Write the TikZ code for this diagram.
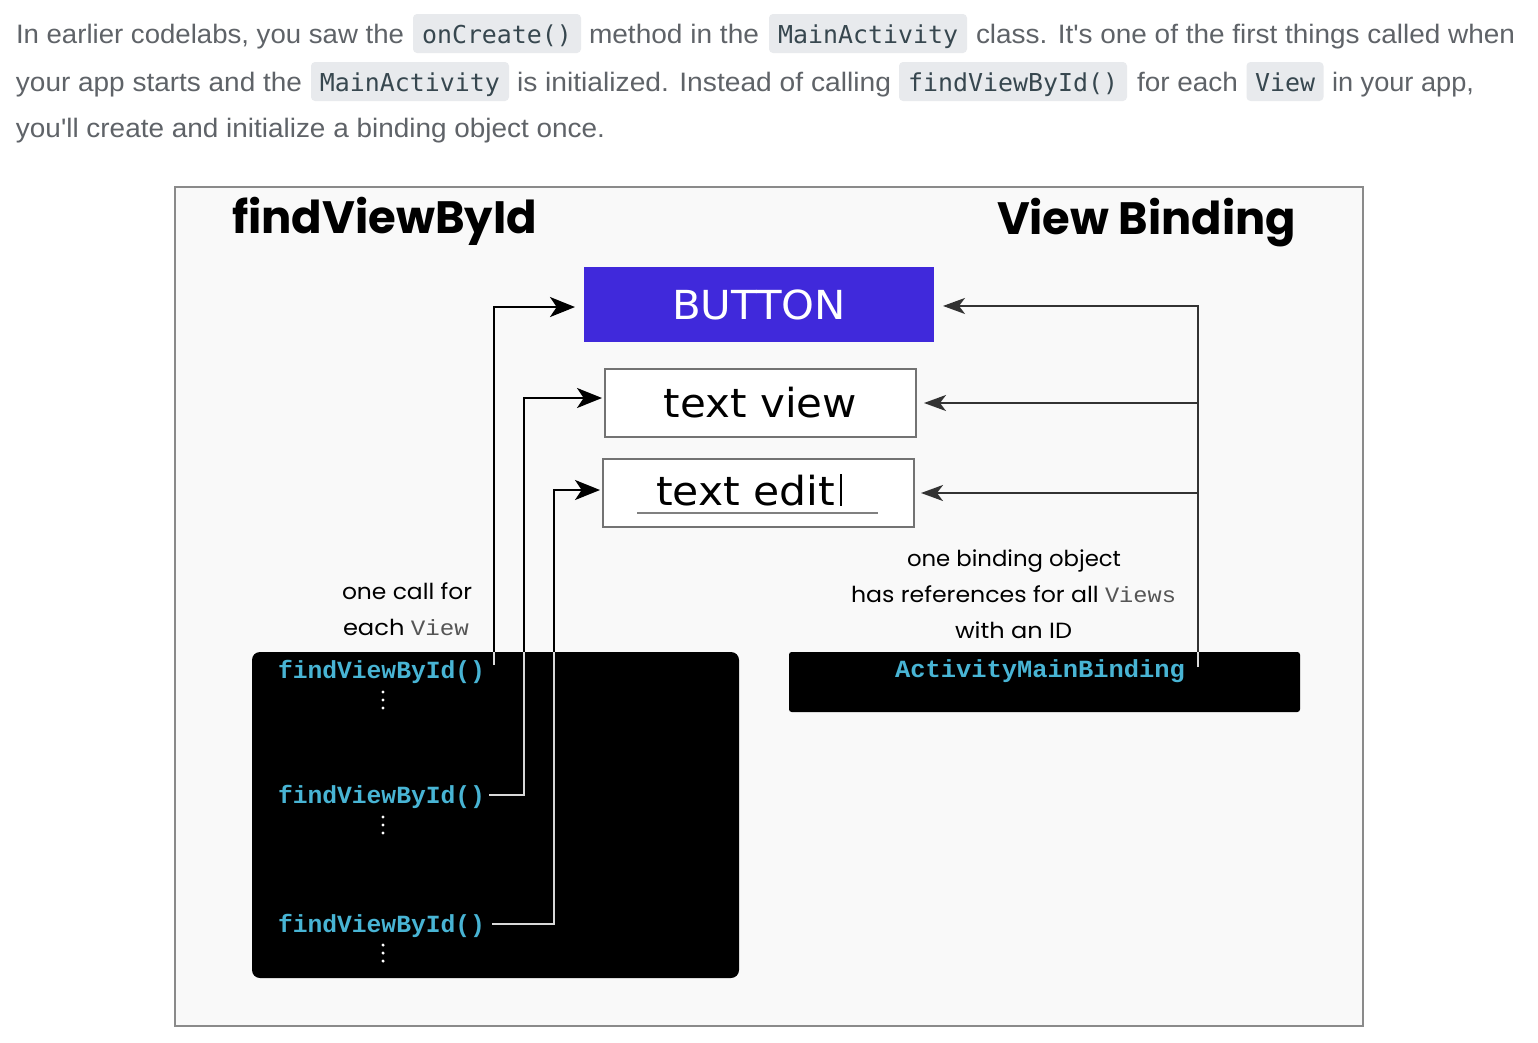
\documentclass[tikz,border=0pt]{standalone}
\usepackage{fontspec}
\usepackage{graphicx}
\usetikzlibrary{arrows.meta}
\newfontfamily\introfont{Liberation Sans}
\newfontfamily\chipfont{DejaVu Sans Mono}
\newfontfamily\geofont{Poppins}
\newfontfamily\codefont{Liberation Mono}
\newfontfamily\uifont{DejaVu Sans}
\newdimen\pxu \pxu=0.75pt
\newcommand{\fitto}[2]{\resizebox{#1\pxu}{\height}{#2}}
\definecolor{introgray}{HTML}{5F6368}
\definecolor{chipbg}{HTML}{E8EAED}
\definecolor{chiptext}{HTML}{37474F}
\definecolor{framebg}{HTML}{F9F9F9}
\definecolor{frameline}{HTML}{8A8A8A}
\definecolor{btnblue}{HTML}{4029DB}
\definecolor{codecyan}{HTML}{48B4D4}
\definecolor{viewgray}{HTML}{555555}
\definecolor{rline}{HTML}{333333}
\begin{document}
\begin{tikzpicture}[x=0.75pt,y=-0.75pt,
  every node/.style={inner sep=0pt,outer sep=0pt},
  intro/.style={anchor=base west,text=introgray,font=\introfont\fontsize{20pt}{24pt}\selectfont},
  chip/.style={anchor=base,fill=chipbg,rounded corners=3pt,text=chiptext,
    font=\chipfont\fontsize{18.5pt}{22pt}\selectfont,text height=29\pxu,text depth=10\pxu},
  framebox/.style={draw=frameline,line width=1.5pt,fill=framebg},
  title/.style={anchor=base west,font=\geofont\bfseries\fontsize{34pt}{40pt}\selectfont},
  uibox/.style={draw=black!55,line width=1.1pt,fill=white,font=\uifont\fontsize{30pt}{36pt}\selectfont},
  btnbox/.style={fill=btnblue,text=white,font=\uifont\fontsize{30pt}{36pt}\selectfont},
  codebox/.style={fill=black,rounded corners=6pt},
  bindbox/.style={fill=black,rounded corners=2pt},
  code/.style={anchor=base west,text=codecyan,font=\codefont\bfseries\fontsize{18.5pt}{22pt}\selectfont},
  lbl/.style={anchor=base west,font=\geofont\fontsize{16.5pt}{20pt}\selectfont},
  larrow/.style={draw=black,line width=1.7pt,-{Stealth[length=18.75pt,width=15pt,inset=5pt]}},
  rarrow/.style={draw=rline,line width=1.4pt,-{Stealth[length=16.5pt,width=12pt,inset=4.5pt]}},
  inner/.style={draw=white!85!black,line width=1.5pt},
]
\useasboundingbox (0,0) rectangle (1538,1042);
\fill[white] (0,0) rectangle (1538,1042);

% intro text
\node[intro] (t1a) at (16,43) {\fitto{388}{In earlier codelabs, you saw the}};
\node[chip,minimum width=168\pxu] (c1a) at (497,43) {\fitto{150}{onCreate()}};
\node[intro] (t1b) at (589,43) {\fitto{170}{method in the}};
\node[chip,minimum width=198\pxu] (c1b) at (868,43) {\fitto{180}{MainActivity}};
\node[intro] (t1c) at (976,43) {\fitto{539}{class. It's one of the first things called when}};

\node[intro] (t2a) at (16,91) {\fitto{286}{your app starts and the}};
\node[chip,minimum width=198\pxu] (c2a) at (410,91) {\fitto{180}{MainActivity}};
\node[intro] (t2b) at (517,91) {\fitto{374}{is initialized. Instead of calling}};
\node[chip,minimum width=228\pxu] (c2b) at (1013,91) {\fitto{210}{findViewById()}};
\node[intro] (t2c) at (1137,91) {\fitto{101}{for each}};
\node[chip,minimum width=77\pxu] (c2c) at (1285,91) {\fitto{60}{View}};
\node[intro] (t2d) at (1332,91) {\fitto{142}{in your app,}};

\node[intro] (t3) at (16,137) {\fitto{589}{you'll create and initialize a binding object once.}};

% frame
\node[framebox,anchor=north west,minimum width=1188\pxu,minimum height=839\pxu] (frame) at (175,187) {};

% titles
\node[title] (ttl1) at (232,233) {\fitto{305}{findViewById}};
\node[title] (ttl2) at (997,234) {\fitto{299}{View Binding}};

% views
\node[btnbox,minimum width=350\pxu,minimum height=75\pxu] (button) at (759,304.5) {\fitto{174}{BUTTON}};
\node[uibox,minimum width=311\pxu,minimum height=68\pxu] (textview) at (760.5,403) {\fitto{193}{text view}};
\node[uibox,minimum width=311\pxu,minimum height=68\pxu] (textedit) at (758.5,493) {};
\node[anchor=base west,font=\uifont\fontsize{30pt}{36pt}\selectfont] (tetext) at (656,505) {\fitto{179}{text edit}};
\draw[black!50,line width=1.5pt] (637,513) -- (878,513);
\draw[black,line width=1.3pt] (841,474) -- (841,506);

% code boxes
\node[codebox,minimum width=487\pxu,minimum height=326\pxu] (codeb) at (495.5,815) {};
\node[bindbox,minimum width=511\pxu,minimum height=60\pxu] (bindb) at (1044.5,682) {};

\node[code] (f1) at (278,678) {\fitto{207}{findViewById()}};
\node[code] (f2) at (278,803) {\fitto{207}{findViewById()}};
\node[code] (f3) at (278,932) {\fitto{207}{findViewById()}};
\node[code] (bt) at (895,677) {\fitto{290}{ActivityMainBinding}};
\foreach \y in {692,700,708,817,825,833,945,953,961}
  \fill[white] (383,\y) circle[radius=1.3pt];

% labels
\node[lbl] (lc1) at (342,599) {\fitto{130}{one call for}};
\node[lbl] (lc2) at (343,635) {\fitto{126}{each {\codefont\color{viewgray}View}}};
\node[lbl] (lr1) at (907,566) {\fitto{214}{one binding object}};
\node[lbl] (lr2) at (851,602) {\fitto{325}{has references for all {\codefont\color{viewgray}Views}}};
\node[lbl] (lr3) at (955,638) {\fitto{117}{with an ID}};

% left connectors
\coordinate (s1) at (494,665);
\draw[larrow,shorten >=9\pxu] (s1) |- ([yshift=-1.9pt]button.west);
\draw[larrow,shorten >=3\pxu] ([xshift=4\pxu,yshift=1pt]f2.east) -- ++(35,0) |- ([yshift=3.75pt]textview.west);
\draw[larrow,shorten >=3\pxu] ([xshift=7\pxu,yshift=1pt]f3.east) -- ++(62,0) |- ([yshift=2.25pt]textedit.west);
\begin{scope}
\clip (codeb.south west) rectangle (codeb.north east);
\draw[inner] (s1) -- ++(0,-20);
\draw[inner] ([xshift=4\pxu,yshift=1pt]f2.east) -- ++(35,0) -- ++(0,-200);
\draw[inner] ([xshift=7\pxu,yshift=1pt]f3.east) -- ++(62,0) -- ++(0,-350);
\end{scope}

% right connectors
\coordinate (r0) at (1198,667);
\coordinate (r1) at (r0 |- textview.east);
\coordinate (r2) at (r0 |- textedit.east);
\draw[rarrow,shorten >=9\pxu] (r0) |- ([yshift=-1.1pt]button.east);
\draw[rarrow,shorten >=8\pxu] (r1) -- (textview.east);
\draw[rarrow,shorten >=7\pxu] (r2) -- (textedit.east);
\begin{scope}
\clip (bindb.south west) rectangle (bindb.north east);
\draw[inner] (r0) -- ++(0,-30);
\end{scope}
\end{tikzpicture}
\end{document}
